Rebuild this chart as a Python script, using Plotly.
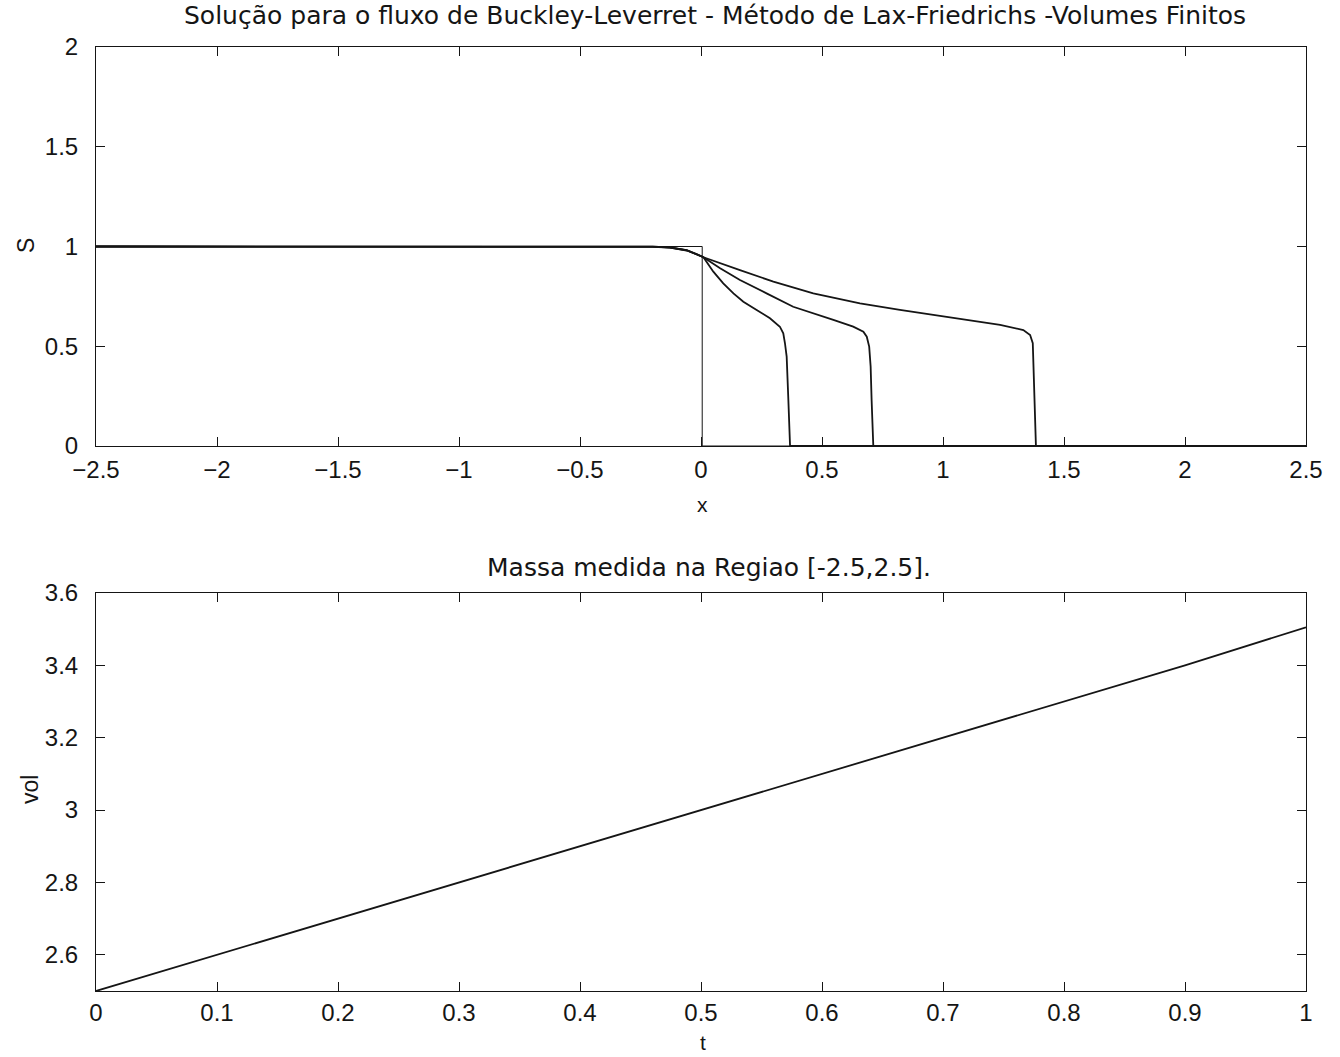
import plotly.graph_objects as go

# Initial condition (step at x = 0)
x_init = [-2.5, 0.005, 0.005, 2.5]
s_init = [1.0, 1.0, 0.0, 0.0]

# Saturation profiles at three times (Lax-Friedrichs, finite volumes)
x_t1 = [-2.5, -0.3, -0.2, -0.128, -0.059, -0.018, 0.010, 0.051, 0.092, 0.134, 0.175, 0.230,
        0.285, 0.326, 0.340, 0.347, 0.354, 0.361, 0.368, 2.5]
s_t1 = [1.0, 1.0, 0.999, 0.996, 0.982, 0.962, 0.946, 0.874, 0.815, 0.765, 0.723, 0.682,
        0.640, 0.598, 0.565, 0.515, 0.448, 0.231, 0.0, 0.0]

x_t2 = [-2.5, -0.3, -0.2, -0.128, -0.059, -0.018, 0.010, 0.079, 0.161, 0.271, 0.381, 0.547,
        0.629, 0.671, 0.685, 0.695, 0.701, 0.705, 0.712, 2.5]
s_t2 = [1.0, 1.0, 0.999, 0.995, 0.981, 0.961, 0.946, 0.891, 0.832, 0.765, 0.698, 0.632,
        0.598, 0.573, 0.548, 0.498, 0.398, 0.231, 0.0, 0.0]

x_t3 = [-2.5, -0.3, -0.2, -0.128, -0.059, -0.018, 0.010, 0.161, 0.299, 0.464, 0.657, 0.822,
        1.098, 1.236, 1.332, 1.360, 1.371, 1.373, 1.377, 1.384, 2.5]
s_t3 = [1.0, 1.0, 0.998, 0.994, 0.980, 0.960, 0.946, 0.882, 0.824, 0.765, 0.715, 0.682,
        0.632, 0.607, 0.581, 0.556, 0.515, 0.448, 0.231, 0.0, 0.0]

# Mass in [-2.5, 2.5] over time
t_vals = [0.0, 0.1, 0.2, 0.3, 0.4, 0.5, 0.6, 0.7, 0.8, 0.9, 1.0]
vol_vals = [2.50, 2.60, 2.70, 2.80, 2.90, 3.00, 3.10, 3.20, 3.30, 3.40, 3.505]

x_ticks = [-2.5, -2, -1.5, -1, -0.5, 0, 0.5, 1, 1.5, 2, 2.5]
x_tick_text = ["\u22122.5", "\u22122", "\u22121.5", "\u22121", "\u22120.5", "0", "0.5", "1", "1.5", "2", "2.5"]
s_ticks = [0, 0.5, 1, 1.5, 2]
s_tick_text = ["0", "0.5", "1", "1.5", "2"]
t_ticks = [0, 0.1, 0.2, 0.3, 0.4, 0.5, 0.6, 0.7, 0.8, 0.9, 1]
t_tick_text = ["0", "0.1", "0.2", "0.3", "0.4", "0.5", "0.6", "0.7", "0.8", "0.9", "1"]
vol_ticks = [2.6, 2.8, 3.0, 3.2, 3.4, 3.6]
vol_tick_text = ["2.6", "2.8", "3", "3.2", "3.4", "3.6"]

INK = "#151515"
FONT = "Liberation Sans, Arial, Helvetica, sans-serif"
TITLE_FONT = "DejaVu Sans, Liberation Sans, sans-serif"
W, H = 1340, 1057

fig = go.Figure()
line_thin = dict(color=INK, width=1)
line_main = dict(color=INK, width=1.8)

fig.add_trace(go.Scatter(x=x_init, y=s_init, mode="lines", line=line_thin, xaxis="x", yaxis="y"))
for xs, ss in [(x_t1, s_t1), (x_t2, s_t2), (x_t3, s_t3)]:
    fig.add_trace(go.Scatter(x=xs, y=ss, mode="lines", line=line_main, xaxis="x", yaxis="y"))
fig.add_trace(go.Scatter(x=t_vals, y=vol_vals, mode="lines", line=line_main, xaxis="x2", yaxis="y2"))

px_left, px_right = 96, 1306
top_y0, top_y1 = 47, 446
bot_y0, bot_y1 = 593, 991


def dom_x():
    return [px_left / W, px_right / W]


def dom_y(top, bottom):
    return [(H - bottom) / H, (H - top) / H]


axis_common = dict(
    showline=True, mirror="allticks", linecolor=INK, linewidth=1,
    ticks="inside", ticklen=9, tickwidth=1, tickcolor=INK,
    showgrid=False, zeroline=False, automargin=False,
    tickfont=dict(family=FONT, size=24, color=INK),
)

fig.update_layout(
    template="none",
    width=W, height=H,
    margin=dict(l=0, r=0, t=0, b=0, autoexpand=False),
    paper_bgcolor="white", plot_bgcolor="white",
    showlegend=False,
    xaxis=dict(domain=dom_x(), range=[-2.5, 2.5], tickvals=x_ticks, ticktext=x_tick_text,
               anchor="y", ticklabelstandoff=2, **axis_common),
    yaxis=dict(domain=dom_y(top_y0, top_y1), range=[0, 2], tickvals=s_ticks, ticktext=s_tick_text,
               anchor="x", ticklabelstandoff=12, **axis_common),
    xaxis2=dict(domain=dom_x(), range=[0, 1], tickvals=t_ticks, ticktext=t_tick_text,
                anchor="y2", ticklabelstandoff=0, **axis_common),
    yaxis2=dict(domain=dom_y(bot_y0, bot_y1), range=[2.5, 3.6], tickvals=vol_ticks, ticktext=vol_tick_text,
                anchor="x2", ticklabelstandoff=12, **axis_common),
)


def label(text, px, py, size=22, angle=0, family=FONT):
    fig.add_annotation(text=text, x=px / W, y=(H - py) / H, xref="paper", yref="paper",
                       showarrow=False, xanchor="center", yanchor="middle", textangle=angle,
                       font=dict(family=family, size=size, color=INK))


label("Solução para o fluxo de Buckley-Leverret - Método de Lax-Friedrichs -Volumes Finitos",
      715, 15, size=25, family=TITLE_FONT)
label("Massa medida na Regiao [-2.5,2.5].", 709, 567, size=25, family=TITLE_FONT)
label("S", 26, 246, size=23, angle=-90)
label("x", 703, 505, size=21)
label("vol", 30, 790, size=23, angle=-90)
label("t", 703, 1042, size=21)

fig.write_html("out.html")
